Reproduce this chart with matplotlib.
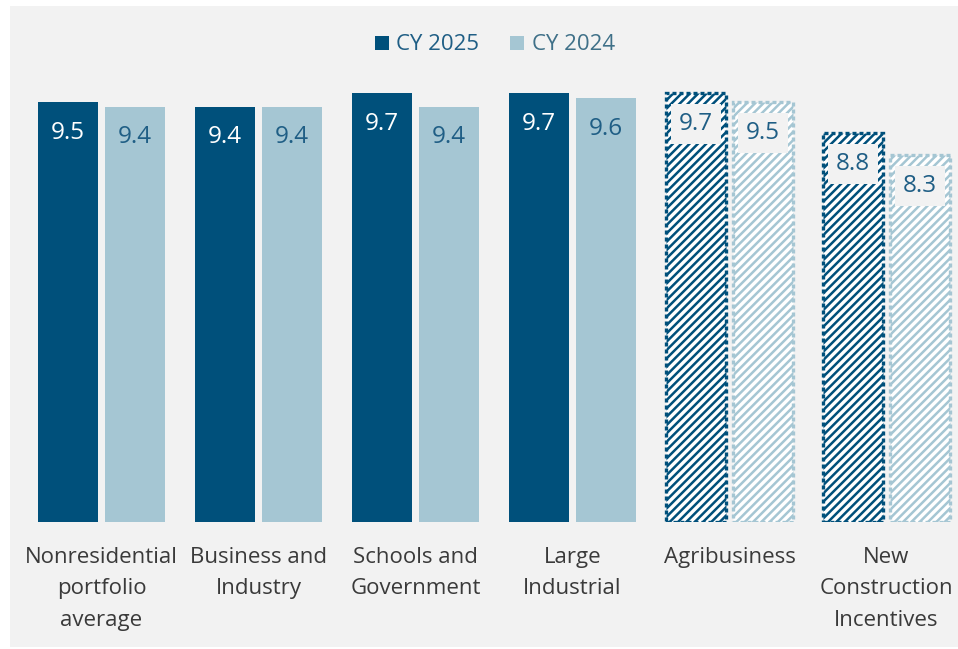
import matplotlib
matplotlib.use("Agg")
import matplotlib.pyplot as plt
from matplotlib.patches import Patch, Rectangle
import numpy as np

categories = ["Nonresidential\nportfolio\naverage", "Business and\nIndustry",
              "Schools and\nGovernment", "Large\nIndustrial", "Agribusiness",
              "New\nConstruction\nIncentives"]
cy2025 = [9.5, 9.4, 9.7, 9.7, 9.7, 8.8]
cy2024 = [9.4, 9.4, 9.4, 9.6, 9.5, 8.3]
hatched = [False, False, False, False, True, True]
series_names = ["CY 2025", "CY 2024"]

DARK = "#00507b"
LIGHT = "#a5c6d3"
PANEL = "#f2f2f2"
TXT = "#1f5e85"

plt.rcParams["font.family"] = ["Open Sans", "DejaVu Sans"]
plt.rcParams["hatch.linewidth"] = 1.8

fig = plt.figure(figsize=(9.58, 6.49), dpi=100)
fig.patch.set_facecolor("white")
# grey backing panel with a thin white margin on the left, top and bottom
fig.add_artist(Rectangle((10 / 958, 2 / 649), 1 - 10 / 958, 1 - 8 / 649, transform=fig.transFigure,
                         facecolor=PANEL, edgecolor="none", zorder=-10))

ax = fig.add_axes([10 / 958, (649 - 522) / 649, 948 / 958, 442 / 649])
ax.set_facecolor("none")
ax.set_xlim(-0.583, 5.455)
ax.set_ylim(0, 10.0)

x = np.arange(len(categories))
w = 0.382
off = 0.213

for vals, xs, col, fg in [(cy2025, x - off, DARK, "white"), (cy2024, x + off, LIGHT, TXT)]:
    for xi, v, h in zip(xs, vals, hatched):
        if h:
            ax.bar(xi, v, w, facecolor="white", edgecolor=col, hatch="////",
                   linewidth=2.4, linestyle=(0, (1.2, 0.9)))
            ax.text(xi, v - 0.70, f"{v:.1f}", ha="center", va="center",
                    fontsize=17.5, color=TXT,
                    bbox=dict(boxstyle="square,pad=0.34", facecolor=PANEL, edgecolor="none"))
        else:
            ax.bar(xi, v, w, color=col, edgecolor="none")
            ax.text(xi, v - 0.70, f"{v:.1f}", ha="center", va="center",
                    fontsize=17.5, color=fg)

ax.set_xticks(x)
ax.set_xticklabels(categories, fontsize=16, color="#3a3a3a", linespacing=1.65)
ax.tick_params(axis="x", length=0, pad=18)
ax.set_yticks([])
for s in ax.spines.values():
    s.set_visible(False)

handles = [Patch(facecolor=DARK), Patch(facecolor=LIGHT)]
fig.legend(handles, series_names, loc="center", bbox_to_anchor=(495 / 958, 1 - 45 / 649),
           ncol=2, frameon=False, fontsize=16, labelcolor=[TXT, "#3f7088"],
           handlelength=0.6, handleheight=0.6, handletextpad=0.35, columnspacing=1.4)

fig.savefig("out.png", dpi=100, facecolor=fig.get_facecolor())
